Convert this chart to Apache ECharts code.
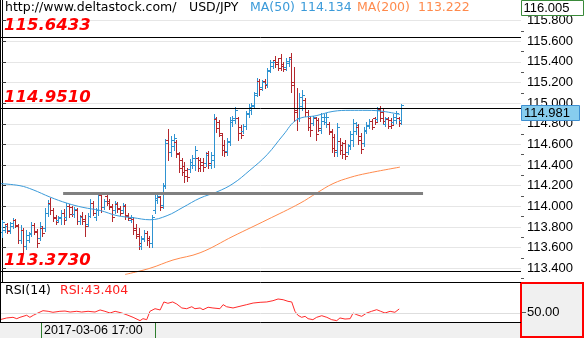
<!DOCTYPE html>
<html><head><meta charset="utf-8">
<script src="https://cdn.jsdelivr.net/npm/echarts@6/dist/echarts.min.js"></script>
<style>html,body{margin:0;padding:0;background:#fff}#c{width:584px;height:338px}</style>
</head><body><div id="c"></div>
<script>
// ---- data (USD/JPY bars) ----
const openP = [
113.75,113.77,113.83,113.77,113.81,113.87,113.81,113.67,113.77,113.62,
113.67,113.74,113.82,113.76,113.69,113.79,113.79,113.94,114.03,113.96,
113.90,113.87,113.89,113.94,113.90,114.00,113.99,113.93,113.96,113.86,
113.91,113.88,113.83,113.91,114.03,113.90,113.96,114.11,113.99,114.10,
114.05,114.00,113.96,114.02,113.98,113.96,114.00,113.92,113.87,113.88,
113.79,113.73,113.62,113.68,113.74,113.69,113.64,113.96,114.06,114.09,
114.01,114.21,114.64,114.53,114.58,114.62,114.51,114.45,114.39,114.35,
114.36,114.40,114.40,114.47,114.45,114.43,114.42,114.52,114.40,114.45,
114.85,114.82,114.69,114.59,114.54,114.63,114.82,114.84,114.86,114.77,
114.73,114.78,114.90,114.93,114.98,115.10,115.21,115.16,115.21,115.19,
115.32,115.36,115.42,115.40,115.44,115.38,115.35,115.39,115.45,115.20,
114.93,114.86,114.97,115.03,114.91,114.86,114.81,114.86,114.84,114.74,
114.83,114.82,114.80,114.72,114.67,114.53,114.63,114.59,114.61,114.53,
114.59,114.64,114.73,114.77,114.68,114.61,114.73,114.78,114.83,114.86,
114.85,114.94,114.91,114.80,114.85,114.84,114.82,114.84,114.86,114.84];
const highP = [
113.87,113.82,113.84,113.85,113.89,113.88,113.83,113.82,113.79,113.77,
113.75,113.85,113.84,113.78,113.85,113.81,113.98,114.06,114.08,113.98,
113.92,113.91,113.96,113.97,114.03,114.02,114.00,113.99,113.98,113.92,
113.95,113.92,113.94,114.07,114.05,113.98,114.14,114.13,114.07,114.13,
114.07,114.02,114.05,114.04,114.00,114.03,114.02,113.94,113.92,113.89,
113.83,113.79,113.71,113.77,113.76,113.71,113.92,114.11,114.13,114.10,
114.23,114.65,114.75,114.68,114.70,114.64,114.53,114.47,114.43,114.37,
114.46,114.50,114.58,114.48,114.47,114.47,114.53,114.54,114.53,114.89,
114.87,114.84,114.71,114.64,114.66,114.87,114.88,114.96,114.87,114.79,
114.80,114.92,114.99,115.00,115.11,115.24,115.23,115.22,115.23,115.34,
115.42,115.42,115.46,115.44,115.48,115.40,115.44,115.45,115.49,115.35,
115.15,115.10,115.13,115.05,114.93,114.88,114.88,114.87,114.86,114.90,
114.89,114.90,114.82,114.75,114.70,114.81,114.66,114.62,114.64,114.60,
114.73,114.85,114.82,114.80,114.71,114.77,114.82,114.85,114.85,114.87,
114.96,114.97,114.94,114.87,114.87,114.86,114.89,114.92,114.87,114.99];
const lowP = [
113.70,113.75,113.74,113.74,113.79,113.80,113.64,113.64,113.56,113.59,
113.65,113.71,113.73,113.61,113.67,113.71,113.76,113.91,113.93,113.86,
113.83,113.85,113.83,113.83,113.87,113.90,113.91,113.90,113.83,113.83,
113.83,113.71,113.81,113.90,113.92,113.87,113.92,113.95,113.97,114.01,
113.97,113.86,113.94,113.95,113.92,113.94,113.88,113.87,113.85,113.73,
113.69,113.59,113.59,113.66,113.63,113.61,113.61,113.94,114.03,113.96,
113.98,114.18,114.45,114.49,114.55,114.48,114.33,114.30,114.24,114.25,
114.33,114.37,114.35,114.34,114.34,114.34,114.39,114.37,114.37,114.38,
114.72,114.68,114.50,114.49,114.50,114.59,114.78,114.81,114.64,114.66,
114.71,114.75,114.87,114.89,114.95,115.07,115.08,115.13,115.15,115.16,
115.30,115.34,115.35,115.32,115.32,115.31,115.32,115.36,115.11,114.83,
114.74,114.83,114.93,114.88,114.74,114.68,114.79,114.64,114.73,114.71,
114.80,114.77,114.70,114.53,114.49,114.49,114.51,114.47,114.46,114.51,
114.56,114.58,114.70,114.60,114.52,114.58,114.71,114.76,114.75,114.80,
114.83,114.83,114.80,114.78,114.76,114.76,114.80,114.81,114.78,114.80];
const closeP = [
113.85,113.81,113.76,113.84,113.87,113.82,113.67,113.77,113.62,113.72,
113.73,113.82,113.75,113.64,113.81,113.74,113.94,114.02,113.96,113.89,
113.85,113.90,113.94,113.87,114.00,113.93,113.93,113.97,113.86,113.90,
113.86,113.81,113.91,114.03,113.94,113.96,114.11,113.99,114.05,114.03,
113.99,113.90,114.03,113.97,113.94,114.01,113.91,113.89,113.90,113.77,
113.71,113.64,113.69,113.74,113.67,113.64,113.90,114.08,114.10,113.99,
114.20,114.61,114.53,114.64,114.66,114.52,114.37,114.33,114.29,114.28,
114.43,114.47,114.55,114.37,114.40,114.38,114.50,114.42,114.50,114.86,
114.76,114.71,114.55,114.53,114.62,114.84,114.86,114.93,114.71,114.69,
114.78,114.89,114.96,114.97,115.08,115.21,115.14,115.20,115.18,115.31,
115.40,115.40,115.38,115.34,115.36,115.33,115.41,115.43,115.18,114.91,
114.86,115.06,115.08,114.91,114.77,114.74,114.87,114.70,114.76,114.87,
114.87,114.87,114.73,114.57,114.55,114.77,114.55,114.51,114.49,114.58,
114.70,114.81,114.79,114.64,114.56,114.74,114.79,114.83,114.77,114.82,
114.93,114.86,114.83,114.86,114.78,114.79,114.87,114.90,114.81,114.981];
// moving averages: [bar position, price]
const ma50 = [[-0.75,114.22],[6.7,114.20],[11.6,114.16],[17.9,114.09],[24.3,114.03],[30.2,113.99],
 [36.6,113.96],[42.9,113.91],[48.9,113.89],[55.2,113.87],[61.6,113.91],[67.5,113.99],[73.9,114.08],
 [80.2,114.14],[86.2,114.22],[92.5,114.35],[98.9,114.50],[104.9,114.69],[110.1,114.84],[117.5,114.88],
 [123.5,114.92],[129.9,114.93],[136.2,114.93],[142.2,114.92],[148.5,114.89]];
const ma200 = [[45.9,113.34],[55.2,113.40],[63.8,113.48],[73.9,113.55],[86.2,113.71],[98.9,113.87],
 [111.2,114.03],[117.5,114.13],[123.5,114.22],[129.9,114.28],[136.2,114.32],[148.5,114.38]];
// RSI(14): [bar position, value]
const rsi = [[-0.75,42.6],[1.75,44.5],[4.1,45.2],[5.5,43.7],[6.7,45.2],[9.2,47.5],[10.4,45.2],[11.7,47.5],
 [13.4,50.0],[15.3,52.6],[17.2,51.9],[19.0,50.8],[21.6,51.9],[23.5,52.2],[25.4,51.1],[27.9,51.9],
 [29.7,51.1],[32.1,51.9],[32.8,53.4],[34.7,51.1],[36.6,53.4],[38.4,51.9],[40.3,50.0],[42.2,51.9],
 [44.7,50.0],[47.0,47.5],[48.9,45.2],[51.5,41.5],[52.6,43.7],[54.0,42.6],[55.2,51.9],[57.1,54.8],
 [59.0,53.4],[60.4,62.3],[61.9,60.8],[63.7,62.3],[65.2,60.0],[67.1,55.6],[68.9,54.8],[70.8,57.0],
 [72.0,54.8],[73.9,55.6],[75.0,53.7],[76.9,56.4],[78.7,55.6],[81.3,54.8],[82.5,59.3],[83.8,57.0],
 [86.2,55.6],[88.8,57.5],[91.3,59.3],[93.7,61.1],[96.3,61.9],[98.8,62.3],[101.1,63.7],[103.0,65.6],
 [104.9,64.8],[106.7,63.0],[108.1,62.3],[109.3,51.9],[110.4,47.5],[111.8,45.2],[113.1,46.3],[114.2,43.7],
 [116.0,42.6],[117.4,45.2],[119.3,47.0],[121.2,45.2],[123.0,42.6],[124.9,41.5],[126.1,44.5],[128.0,43.3],
 [129.9,43.7],[131.0,50.0],[132.4,48.1],[134.2,46.3],[136.1,50.0],[137.9,51.9],[139.8,53.7],[141.3,51.9],
 [142.9,50.0],[144.8,51.9],[146.6,50.8],[148.2,54.5]];
const levels = [115.6433, 114.9510, 113.3730];
const levelLabels = ['115.6433', '114.9510', '113.3730'];
const support = {from: 22.8, to: 157.1, value: 114.13};
const priceLabels = [113.4,113.6,113.8,114.0,114.2,114.4,114.6,114.8,115.0,115.2,115.4,115.6,115.8];
const minorTicks = [113.3,113.5,113.7,113.9,114.1,114.3,114.5,114.7,114.9,115.1,115.3,115.5,115.7,115.9];
const lastPrice = 114.981;
const maxPriceLabel = '116.005';
const header = {site:'http://www.deltastock.com/', pair:'USD/JPY', ma50Name:'MA(50)', ma50Val:'114.134',
  ma200Name:'MA(200)', ma200Val:'113.222', rsiName:'RSI(14)', rsiVal:'RSI:43.404', date:'2017-03-06 17:00'};

const UP = '#2f93d1', DOWN = '#b3282d', MA50C = '#3a9ad9', MA200C = '#ff8a4c';
const YMIN = 113.267, YMAX = 115.999;

const chart = echarts.init(document.getElementById('c'), null, {renderer: 'canvas'});
const ohlc = openP.map((o, i) => [i, o, highP[i], lowP[i], closeP[i]]);

function renderOHLC(params, api) {
  const i = api.value(0), o = api.value(1), h = api.value(2), l = api.value(3), c = api.value(4);
  const pO = api.coord([i, o]), pH = api.coord([i, h]), pL = api.coord([i, l]), pC = api.coord([i, c]);
  const x = Math.round(pO[0]) + 0.5;
  const col = c >= o ? UP : DOWN;
  const yo = Math.round(pO[1]) + 0.5, yc = Math.round(pC[1]) + 0.5;
  return {type: 'group', children: [
    {type: 'line', shape: {x1: x, y1: Math.round(pH[1]), x2: x, y2: Math.round(pL[1]) + 1}, style: {stroke: col, lineWidth: 1}},
    {type: 'line', shape: {x1: x - 2.5, y1: yo, x2: x, y2: yo}, style: {stroke: col, lineWidth: 1}},
    {type: 'line', shape: {x1: x, y1: yc, x2: x + 2.5, y2: yc}, style: {stroke: col, lineWidth: 1}}
  ]};
}

const axisFont = {fontFamily: 'Liberation Sans', fontSize: 13, color: '#000'};
chart.setOption({
  animation: false,
  backgroundColor: '#fff',
  grid: [
    {left: 0, top: 0, width: 521, height: 282},
    {left: 0, top: 282, width: 521, height: 40}
  ],
  xAxis: [
    {type: 'value', gridIndex: 0, min: -0.75, max: 193.65, show: false},
    {type: 'value', gridIndex: 1, min: -0.75, max: 193.65, show: false}
  ],
  yAxis: [
    {type: 'value', gridIndex: 0, position: 'right', min: YMIN, max: YMAX,
     axisLine: {show: true, lineStyle: {color: '#000', width: 1}},
     axisTick: {show: true, length: 4, customValues: priceLabels, lineStyle: {color: '#333'}},
     axisLabel: Object.assign({show: true, margin: 6, customValues: priceLabels, formatter: v => v.toFixed(3)}, axisFont),
     splitLine: {show: true, lineStyle: {color: '#e6e6e6', width: 1}}},
    {type: 'value', gridIndex: 1, position: 'right', min: 40, max: 84.5,
     axisLine: {show: false}, axisTick: {show: false}, axisLabel: {show: false}, splitLine: {show: false}},
    {type: 'value', gridIndex: 0, position: 'right', min: YMIN, max: YMAX,
     axisLine: {show: false},
     axisTick: {show: true, length: 3, customValues: minorTicks, lineStyle: {color: '#555'}},
     axisLabel: {show: false}, splitLine: {show: false}}
  ],
  series: [
    {type: 'custom', name: 'USD/JPY', xAxisIndex: 0, yAxisIndex: 0, renderItem: renderOHLC,
     data: ohlc, encode: {x: 0, y: [1, 2, 3, 4]}, z: 3, silent: true},
    {type: 'line', name: 'MA(50)', xAxisIndex: 0, yAxisIndex: 0, data: ma50, smooth: 0.4,
     showSymbol: false, lineStyle: {color: MA50C, width: 1}, z: 4, silent: true,
     markLine: {silent: true, symbol: 'none', label: {show: false}, animation: false,
       data: levels.map(v => ({yAxis: v, lineStyle: {color: '#000', width: 1, type: 'solid'}})).concat([
         [{coord: [support.from, support.value], lineStyle: {color: '#808080', width: 3, type: 'solid'}},
          {coord: [support.to, support.value]}]
       ])}},
    {type: 'line', name: 'MA(200)', xAxisIndex: 0, yAxisIndex: 0, data: ma200, smooth: 0.4,
     showSymbol: false, lineStyle: {color: MA200C, width: 1}, z: 4, silent: true},
    {type: 'line', name: 'RSI', xAxisIndex: 1, yAxisIndex: 1, data: rsi, showSymbol: false,
     lineStyle: {color: '#ff2b2b', width: 1}, z: 4, silent: true,
     markLine: {silent: true, symbol: 'none', label: {show: false}, animation: false,
       data: [{yAxis: 50, lineStyle: {color: '#dedede', width: 1, type: 'solid'}}]}}
  ]
});

const py = v => chart.convertToPixel({yAxisIndex: 0}, v);
const ry = v => chart.convertToPixel({yAxisIndex: 1}, v);
const hdrFont = '12.5px "DejaVu Sans"';
const txt = (x, y, text, fill, font, extra) => Object.assign({type: 'text', x: x, y: y, z: 100,
  style: {text: text, fill: fill, font: font, align: 'left', verticalAlign: 'middle'}}, extra || {});

const g = [];
// bottom strip & date
g.push({type: 'rect', z: 90, shape: {x: 0, y: 322, width: 584, height: 16}, style: {fill: '#f0f0f0'}});
g.push({type: 'rect', z: 91, shape: {x: 41.5, y: 322.5, width: 114, height: 20}, style: {fill: '#f0f0f0', stroke: '#2d7d2d', lineWidth: 1}});
g.push(txt(44, 330.5, header.date, '#000', '12.5px "Liberation Sans"'));
// RSI right box
g.push({type: 'rect', z: 90, shape: {x: 521, y: 283, width: 62, height: 54}, style: {fill: '#f0f0f0', stroke: '#ff0000', lineWidth: 2}});
const y50 = Math.round(ry(50)) - 0.5;
g.push({type: 'line', z: 95, shape: {x1: 522, y1: y50, x2: 526, y2: y50}, style: {stroke: '#555', lineWidth: 1}});
g.push(txt(527, y50, '50.00', '#000', '13px "Liberation Sans"'));
// panel borders
g.push({type: 'line', z: 95, shape: {x1: 0, y1: 282.5, x2: 521, y2: 282.5}, style: {stroke: '#000', lineWidth: 1}});
g.push({type: 'line', z: 95, shape: {x1: 0, y1: 322.5, x2: 521, y2: 322.5}, style: {stroke: '#000', lineWidth: 1}});
g.push({type: 'line', z: 95, shape: {x1: 0.5, y1: 0, x2: 0.5, y2: 322}, style: {stroke: '#000', lineWidth: 1}});
// header
g.push(txt(5, 8, header.site, '#000', hdrFont));
g.push(txt(189, 8, header.pair, '#000', hdrFont));
g.push(txt(250, 8, header.ma50Name, MA50C, hdrFont));
g.push(txt(300, 8, header.ma50Val, MA50C, hdrFont));
g.push(txt(357, 8, header.ma200Name, MA200C, hdrFont));
g.push(txt(418, 8, header.ma200Val, MA200C, hdrFont));
g.push(txt(5, 290.5, header.rsiName, '#000', hdrFont));
g.push(txt(60, 290.5, header.rsiVal, '#ff2020', hdrFont));
// level labels
levels.forEach((v, k) => {
  g.push(txt(4, py(v) - 10.5, levelLabels[k], '#ff0000', 'italic bold 16.5px "DejaVu Sans"'));
});
// max price box
g.push({type: 'rect', z: 96, shape: {x: 521.5, y: 0.5, width: 62, height: 15}, style: {fill: '#fff', stroke: '#3a8a3a', lineWidth: 1}});
g.push(txt(523.5, 8, maxPriceLabel, '#000', '13px "Liberation Sans"'));
// last price box
const yl = Math.round(py(lastPrice)) + 0.5;
g.push({type: 'rect', z: 96, shape: {x: 521.5, y: yl, width: 58, height: 15}, style: {fill: '#87cdee', stroke: '#3d8fd1', lineWidth: 1}});
g.push(txt(524, yl + 7.5, lastPrice.toFixed(3), '#000', '13px "Liberation Sans"'));

chart.setOption({graphic: g});
</script>
</body></html>
